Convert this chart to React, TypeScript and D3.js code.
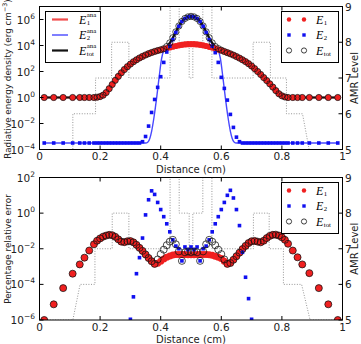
import React, { useEffect, useRef } from "react";
import * as d3 from "d3";

// cell centres (cm) where the simulation values are sampled
const gridX = [
  0.0156, 0.0469, 0.0781, 0.1094, 0.1328, 0.1484, 0.1641, 0.1797,
  0.19, 0.2, 0.21, 0.22, 0.23, 0.24, 0.25, 0.26, 0.27, 0.28, 0.29,
  0.3, 0.31, 0.32, 0.33, 0.34, 0.35, 0.36, 0.37, 0.38, 0.39,
  0.4, 0.41, 0.42, 0.43, 0.44, 0.45, 0.46, 0.47, 0.48, 0.49,
  0.5, 0.51, 0.52, 0.53, 0.54, 0.55, 0.56, 0.57, 0.58, 0.59,
  0.6, 0.61, 0.62, 0.63, 0.64, 0.65, 0.66, 0.67, 0.68, 0.69,
  0.7, 0.71, 0.72, 0.73, 0.74, 0.75, 0.76, 0.77, 0.78, 0.79, 0.8, 0.81,
  0.8203, 0.8359, 0.8516, 0.8672, 0.8906, 0.9219, 0.9531, 0.9844,
];

// top panel: log10 of radiative energy density (erg cm^-3)
const e1Log = [
  0, 0, 0, 0, 0, 0, 0, 0,
  0.02, 0.07, 0.18, 0.38, 0.68, 1.0, 1.32, 1.62, 1.9, 2.15, 2.37,
  2.57, 2.75, 2.9, 3.04, 3.16, 3.27, 3.37, 3.46, 3.54, 3.61,
  3.67, 3.73, 3.79, 3.85, 3.91, 3.96, 4.01, 4.05, 4.08, 4.1,
  4.11, 4.1, 4.08, 4.05, 4.01, 3.96, 3.9, 3.84, 3.77, 3.69,
  3.62, 3.54, 3.45, 3.36, 3.26, 3.15, 3.03, 2.9, 2.76, 2.6,
  2.42, 2.22, 2.0, 1.77, 1.53, 1.3, 1.05, 0.8, 0.53, 0.29, 0.13, 0.04,
  0, 0, 0, 0, 0, 0, 0, 0,
];
const e2Log = [
  -3.5, -3.5, -3.5, -3.5, -3.5, -3.5, -3.5, -3.5,
  -3.5, -3.5, -3.5, -3.5, -3.5, -3.5, -3.5, -3.5, -3.5, -3.5, -3.5,
  -3.5, -3.5, -3.5, -3.5, -3.4, -3.0, -2.2, -1.15, -0.15, 0.78,
  1.6, 2.7, 3.5, 3.95, 4.45, 5.0, 5.48, 5.84, 6.07, 6.2,
  6.24, 6.2, 6.07, 5.84, 5.48, 5.0, 4.45, 3.95, 3.45, 2.7,
  1.55, 0.7, -0.2, -1.3, -2.3, -3.05, -3.4, -3.5, -3.5, -3.5,
  -3.5, -3.5, -3.5, -3.5, -3.5, -3.5, -3.5, -3.5, -3.5, -3.5, -3.5, -3.5,
  -3.5, -3.5, -3.5, -3.5, -3.5, -3.5, -3.5, -3.5,
];
const etotLog = [
  0, 0, 0, 0, 0, 0, 0, 0,
  0.02, 0.07, 0.18, 0.38, 0.68, 1.0, 1.32, 1.62, 1.9, 2.15, 2.37,
  2.57, 2.75, 2.9, 3.04, 3.16, 3.27, 3.37, 3.46, 3.54, 3.61,
  3.67, 3.75, 3.92, 4.2, 4.6, 5.05, 5.5, 5.85, 6.08, 6.2,
  6.24, 6.2, 6.08, 5.85, 5.5, 5.05, 4.6, 4.2, 3.92, 3.76,
  3.64, 3.54, 3.45, 3.36, 3.26, 3.15, 3.03, 2.9, 2.76, 2.6,
  2.42, 2.22, 2.0, 1.77, 1.53, 1.3, 1.05, 0.8, 0.53, 0.29, 0.13, 0.04,
  0, 0, 0, 0, 0, 0, 0, 0,
];
// analytic E2 (the steep fronts lag behind the simulation)
const e2AnaX = [
  0.0156, 0.35, 0.358, 0.364, 0.37, 0.378, 0.387, 0.395, 0.403, 0.41, 0.42,
  0.43, 0.44, 0.45, 0.46, 0.47, 0.48, 0.49, 0.5, 0.51, 0.52, 0.53, 0.54,
  0.55, 0.56, 0.57, 0.58, 0.59, 0.597, 0.605, 0.613, 0.622, 0.63, 0.636,
  0.642, 0.65, 0.9844,
];
const e2AnaLog = [
  -3.5, -3.5, -3.42, -3.15, -2.6, -1.5, 0.05, 1.6, 3.0, 3.6, 3.85,
  4.1, 4.5, 5.0, 5.48, 5.84, 6.07, 6.2, 6.24, 6.2, 6.07, 5.84, 5.48,
  5.0, 4.5, 4.1, 3.85, 3.6, 3.0, 1.6, 0.05, -1.5, -2.6, -3.15,
  -3.42, -3.5, -3.5,
];

// bottom panel: log10 of percentage relative error (null = below the axis)
const err1Log = [
  -6.0, -5.12, -4.21, -3.4, -2.88, -2.5, -2.1, -1.75,
  -1.55, -1.42, -1.32, -1.26, -1.22, -1.24, -1.33, -1.47, -1.6, -1.63, -1.58,
  -1.57, -1.64, -1.78, -1.95, -2.12, -2.32, -2.52, -2.7, -2.85, -2.82,
  -2.7, -2.58, -2.48, -2.4, -2.35, -2.32, -2.32, -2.32, -2.32, -2.33,
  -2.33, -2.33, -2.32, -2.32, -2.32, -2.32, -2.33, -2.37, -2.42, -2.48,
  -2.55, -2.7, -2.85, -2.8, -2.62, -2.42, -2.22, -2.02, -1.84, -1.68,
  -1.58, -1.56, -1.6, -1.64, -1.55, -1.4, -1.28, -1.22, -1.21, -1.26, -1.36, -1.5,
  -1.72, -2.1, -2.48, -2.88, -3.37, -4.21, -5.12, -6.0,
];
const err2Log = [
  null, null, null, null, null, null, null, null,
  null, null, null, null, null, null, null, null, null, null, null,
  -5.96, -4.7, -3.4, -2.5, -1.4, -0.1, 0.75, 1.25, 1.05, 0.6,
  0.2, -0.2, -0.6, -1.05, -1.5, -1.85, -2.0, -2.68, -1.9, -2.05,
  -1.9, -2.05, -1.9, -2.68, -2.0, -1.85, -1.5, -1.05, -0.6, -0.2,
  0.2, 0.6, 1.0, 1.28, 0.85, 0.2, -0.7, -2.2, -3.6, -4.8,
  -5.96, null, null, null, null, null, null, null, null, null, null, null,
  null, null, null, null, null, null, null, null,
];
const errTotLog = [
  -6.0, -5.12, -4.21, -3.4, -2.88, -2.5, -2.1, -1.75,
  -1.55, -1.42, -1.32, -1.26, -1.22, -1.24, -1.33, -1.47, -1.6, -1.63, -1.58,
  -1.57, -1.64, -1.78, -1.95, -2.12, -2.32, -2.52, -2.7, -2.85, -2.6,
  -2.3, -2.05, -1.8, -1.6, -1.5, -1.75, -2.15, -2.68, -2.2, -2.15,
  -2.2, -2.15, -2.2, -2.68, -2.15, -1.75, -1.5, -1.6, -1.8, -2.05,
  -2.3, -2.6, -2.85, -2.8, -2.62, -2.42, -2.22, -2.02, -1.84, -1.68,
  -1.58, -1.56, -1.6, -1.64, -1.55, -1.4, -1.28, -1.22, -1.21, -1.26, -1.36, -1.5,
  -1.72, -2.1, -2.48, -2.88, -3.37, -4.21, -5.12, -6.0,
];

// AMR level along the domain (dotted step line, right axis)
const amrTopX = [0, 0.11, 0.11, 0.185, 0.185, 0.238, 0.238, 0.295, 0.295, 0.431, 0.431, 0.461, 0.461, 0.494, 0.494, 0.506, 0.506, 0.539, 0.539, 0.569, 0.569, 0.705, 0.705, 0.762, 0.762, 0.815, 0.815, 0.868, 0.89, 1];
const amrTopLevel = [5, 5, 6, 6, 7, 7, 8, 8, 7, 7, 9, 9, 8, 8, 7, 7, 8, 8, 9, 9, 7, 7, 8, 8, 7, 7, 6, 6, 5, 5];
const amrBotX = [0, 0.11, 0.134, 0.183, 0.183, 0.24, 0.24, 0.295, 0.295, 0.431, 0.431, 0.461, 0.461, 0.494, 0.494, 0.506, 0.506, 0.539, 0.539, 0.569, 0.569, 0.706, 0.706, 0.758, 0.758, 0.805, 0.805, 0.865, 0.893, 1];
const amrBotLevel = [5, 5, 6, 6, 7, 7, 8, 8, 7, 7, 9, 9, 8, 8, 7, 7, 8, 8, 9, 9, 7, 7, 8, 8, 7, 7, 6, 6, 5, 5];

const xTicks = [0, 0.2, 0.4, 0.6, 0.8, 1];
const xTickLabels = ["0", "0.2", "0.4", "0.6", "0.8", "1"];
const topExps = [-4, -2, 0, 2, 4, 6];
const botExps = [-6, -4, -2, 0, 2];
const amrTicks = [5, 6, 7, 8, 9];

const SANS = "'DejaVu Sans', sans-serif";
const SERIF = "'Liberation Serif', 'DejaVu Serif', serif";
const RED = "#f02020";
const BLUE = "#1010f0";
const LEFT = 39.5;
const RIGHT = 342.5;

type Sel = d3.Selection<SVGGElement, unknown, null, undefined>;

// E with subscript and optional superscript, like the mathtext legend labels
const eLabel = (g: Sel, x: number, y: number, sub: string, sup?: string) => {
  const t = g.append("text").attr("x", x).attr("y", y + 4).attr("font-family", SERIF).attr("font-size", 12);
  t.append("tspan").attr("font-style", "italic").text("E");
  t.append("tspan").attr("x", x + 7.8).attr("dy", 1.3).attr("font-size", 6.8).text(sub);
  if (sup) t.append("tspan").attr("x", x + 7.8).attr("dy", -7.5).attr("font-size", 6.8).text(sup);
};

const App = () => {
  const ref = useRef<SVGSVGElement | null>(null);

  useEffect(() => {
    if (!ref.current) return;
    const svg = d3.select(ref.current);
    svg.selectAll("*").remove();

    const x = d3.scaleLinear().domain([0, 1]).range([LEFT, RIGHT]);

    const panels = [
      {
        top: 6.5, bottom: 149.5, domain: [1e-4, 1e7], exps: topExps,
        red: e1Log, blue: e2Log, black: etotLog, amrX: amrTopX, amrL: amrTopLevel,
        analytic: true, r: 3.1, tickY: 160, labelY: 173, labelMid: 79,
        yLabel: "Radiative energy density (erg cm", ySup: "\u22123", ySuffix: ")",
      },
      {
        top: 177.5, bottom: 320, domain: [1e-6, 1e2], exps: botExps,
        red: err1Log, blue: err2Log, black: errTotLog, amrX: amrBotX, amrL: amrBotLevel,
        analytic: false, r: 3.5, tickY: 330.5, labelY: 343, labelMid: 249,
        yLabel: "Percentage relative error", ySup: "", ySuffix: "",
      },
    ];

    panels.forEach((p, i) => {
      const y = d3.scaleLog().domain(p.domain).range([p.bottom, p.top]);
      const amrY = d3.scaleLinear().domain([5, 9]).range([p.bottom, p.top]);
      const clipId = `clip-${i}`;
      svg.append("clipPath").attr("id", clipId).append("rect")
        .attr("x", LEFT).attr("y", p.top).attr("width", RIGHT - LEFT).attr("height", p.bottom - p.top);

      const g = svg.append("g").attr("clip-path", `url(#${clipId})`);

      // AMR level
      const amrLine = d3.line<number>().x((_, j) => x(p.amrX[j])).y((d) => amrY(d));
      g.append("path").datum(p.amrL).attr("d", amrLine).attr("fill", "none")
        .attr("stroke", "#8a8a8a").attr("stroke-width", 0.9).attr("stroke-dasharray", "1,1.6");

      const pts = (vals: (number | null)[]) =>
        gridX.map((gx, j) => ({ x: gx, v: vals[j] })).filter((d) => d.v !== null) as { x: number; v: number }[];

      if (p.analytic) {
        const line = d3.line<{ x: number; v: number }>()
          .x((d) => x(d.x)).y((d) => y(Math.pow(10, d.v))).curve(d3.curveMonotoneX);
        g.append("path").datum(pts(p.red)).attr("d", line).attr("fill", "none")
          .attr("stroke", RED).attr("stroke-width", 2.2).attr("opacity", 0.8);
        g.append("path").datum(e2AnaX.map((ex, j) => ({ x: ex, v: e2AnaLog[j] }))).attr("d", line)
          .attr("fill", "none").attr("stroke", "#4848ff").attr("stroke-width", 1.4);
        g.append("path").datum(pts(p.black)).attr("d", line).attr("fill", "none")
          .attr("stroke", "#111").attr("stroke-width", 2.2);
      }

      g.append("g").selectAll("circle").data(pts(p.red)).join("circle")
        .attr("cx", (d) => x(d.x)).attr("cy", (d) => y(Math.pow(10, d.v)))
        .attr("r", p.r).attr("fill", RED);
      const s = 3.6;
      g.append("g").selectAll("rect").data(pts(p.blue)).join("rect")
        .attr("x", (d) => x(d.x) - s / 2).attr("y", (d) => y(Math.pow(10, d.v)) - s / 2)
        .attr("width", s).attr("height", s).attr("fill", BLUE);
      g.append("g").selectAll("circle").data(pts(p.black)).join("circle")
        .attr("cx", (d) => x(d.x)).attr("cy", (d) => y(Math.pow(10, d.v)))
        .attr("r", p.r).attr("fill", "none").attr("stroke", "#111").attr("stroke-width", 0.75);

      // frame and ticks
      const ax = svg.append("g").attr("stroke", "#000").attr("stroke-width", 1);
      ax.append("rect").attr("x", LEFT).attr("y", p.top).attr("width", RIGHT - LEFT)
        .attr("height", p.bottom - p.top).attr("fill", "none");
      xTicks.forEach((t) => {
        ax.append("line").attr("x1", x(t)).attr("x2", x(t)).attr("y1", p.bottom).attr("y2", p.bottom - 4);
        ax.append("line").attr("x1", x(t)).attr("x2", x(t)).attr("y1", p.top).attr("y2", p.top + 4);
      });
      p.exps.forEach((e) => {
        const yy = y(Math.pow(10, e));
        ax.append("line").attr("x1", LEFT).attr("x2", LEFT + 4).attr("y1", yy).attr("y2", yy);
      });
      amrTicks.forEach((t) => {
        ax.append("line").attr("x1", RIGHT).attr("x2", RIGHT - 4).attr("y1", amrY(t)).attr("y2", amrY(t));
      });

      const lab = svg.append("g").attr("font-family", SANS).attr("fill", "#222");
      xTicks.forEach((t, j) => {
        lab.append("text").attr("x", x(t)).attr("y", p.tickY).attr("text-anchor", "middle")
          .attr("font-size", 10.5).text(xTickLabels[j]);
      });
      p.exps.forEach((e) => {
        const t = lab.append("text").attr("x", 35).attr("y", y(Math.pow(10, e)) + 4)
          .attr("text-anchor", "end").attr("font-size", 10.5);
        t.append("tspan").text("10");
        t.append("tspan").attr("dy", -5).attr("font-size", 7.5).text(e < 0 ? `\u2212${-e}` : `${e}`);
      });
      amrTicks.forEach((t) => {
        lab.append("text").attr("x", 345).attr("y", amrY(t) + 4).attr("font-size", 10.5).text(String(t));
      });
      lab.append("text").attr("x", (LEFT + RIGHT) / 2).attr("y", p.labelY).attr("text-anchor", "middle")
        .attr("font-size", 10).text("Distance (cm)");
      const yl = lab.append("text").attr("transform", `translate(11,${p.labelMid}) rotate(-90)`)
        .attr("text-anchor", "middle").attr("font-size", 8.8);
      yl.append("tspan").text(p.yLabel);
      if (p.ySup) {
        yl.append("tspan").attr("dy", -4).attr("font-size", 6.3).text(p.ySup);
        yl.append("tspan").attr("dy", 4).text(p.ySuffix);
      }
      lab.append("text").attr("transform", `translate(358,${(p.top + p.bottom) / 2}) rotate(-90)`)
        .attr("text-anchor", "middle").attr("font-size", 10).text("AMR Level");

      // legend with the simulation markers
      const lg = svg.append("g");
      const ly = p.top + 5;
      lg.append("rect").attr("x", 281.5).attr("y", ly).attr("width", 57).attr("height", 51)
        .attr("fill", "#fff").attr("stroke", "#000").attr("stroke-width", 1);
      const rows = [ly + 8, ly + 23.5, ly + 39];
      [289, 304].forEach((mx) => {
        lg.append("circle").attr("cx", mx).attr("cy", rows[0]).attr("r", 2.2).attr("fill", RED);
        lg.append("rect").attr("x", mx - 1.7).attr("y", rows[1] - 1.7).attr("width", 3.4).attr("height", 3.4).attr("fill", BLUE);
        lg.append("circle").attr("cx", mx).attr("cy", rows[2]).attr("r", 2.6).attr("fill", "none")
          .attr("stroke", "#111").attr("stroke-width", 0.8);
      });
      eLabel(lg, 316, rows[0], "1");
      eLabel(lg, 316, rows[1], "2");
      eLabel(lg, 316, rows[2], "tot");

      if (p.analytic) {
        const la = svg.append("g");
        la.append("rect").attr("x", 45.5).attr("y", ly).attr("width", 55).attr("height", 51)
          .attr("fill", "#fff").attr("stroke", "#000").attr("stroke-width", 1);
        const cols = [RED, "#4848ff", "#111"];
        const widths = [2.2, 1.4, 2.2];
        rows.forEach((ry, j) => {
          la.append("line").attr("x1", 52).attr("x2", 68).attr("y1", ry).attr("y2", ry)
            .attr("stroke", cols[j]).attr("stroke-width", widths[j]).attr("opacity", j === 0 ? 0.8 : 1);
        });
        eLabel(la, 79, rows[0], "1", "ana");
        eLabel(la, 79, rows[1], "2", "ana");
        eLabel(la, 79, rows[2], "tot", "ana");
      }
    });
  }, []);

  return (
    <svg
      ref={ref}
      width={361}
      height={344}
      style={{ position: "absolute", left: 0, top: 0, background: "#fff" }}
    ></svg>
  );
};

export default App;
